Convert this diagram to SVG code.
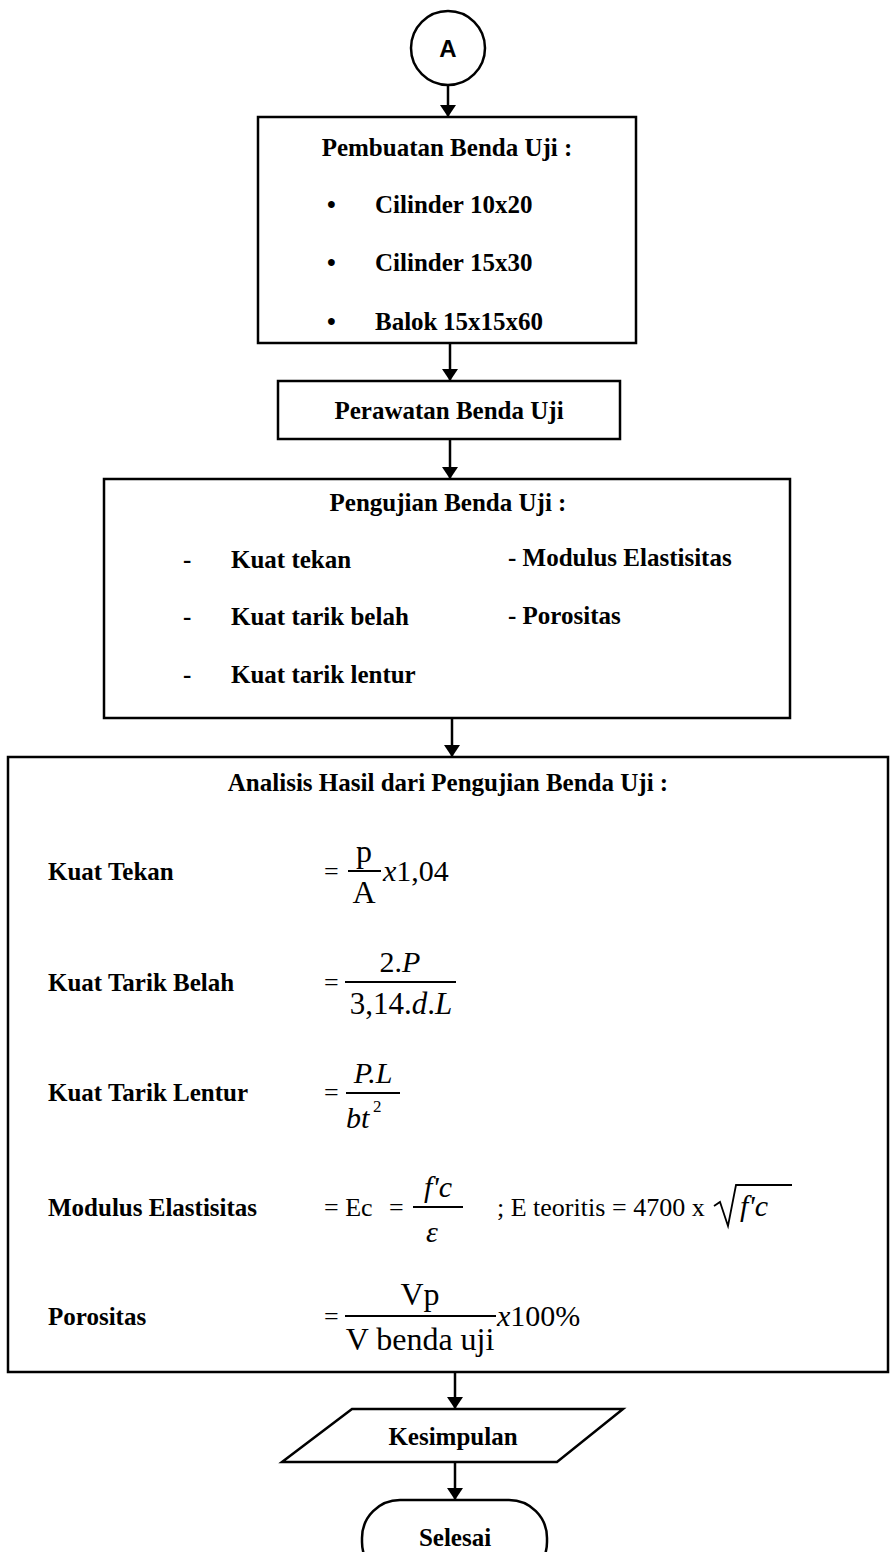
<svg xmlns="http://www.w3.org/2000/svg" width="890" height="1552" viewBox="0 0 890 1552">
<defs>
<marker id="ah" viewBox="0 0 12 16" refX="12" refY="8" markerWidth="12" markerHeight="16" markerUnits="userSpaceOnUse" orient="auto">
<path d="M0,0 L12,8 L0,16 Z" fill="#000"/>
</marker>
<style>
.box{fill:#fff;stroke:#000;stroke-width:2.5}
.t{font-family:"Liberation Serif","Times New Roman",serif;font-weight:bold;font-size:25px;fill:#000}
.c{text-anchor:middle}
.f{font-family:"Liberation Serif","Times New Roman",serif;font-size:30px;fill:#000}
.fs{font-family:"Liberation Serif","Times New Roman",serif;font-size:26px;fill:#000}
.i{font-style:italic}
.fl{stroke:#000;stroke-width:2}
.conn{stroke:#000;stroke-width:2.5;fill:none;marker-end:url(#ah)}
</style>
</defs>
<rect width="890" height="1552" fill="#fff"/>
<g id="connectors">
<line class="conn" x1="448" y1="85" x2="448" y2="117"/>
<line class="conn" x1="450" y1="343" x2="450" y2="381"/>
<line class="conn" x1="450" y1="439" x2="450" y2="479"/>
<line class="conn" x1="452" y1="718" x2="452" y2="757"/>
<line class="conn" x1="455" y1="1372" x2="455" y2="1409"/>
<line class="conn" x1="455" y1="1462" x2="455" y2="1500"/>
</g>
<g id="nodeA">
<circle cx="448" cy="48" r="37" fill="#fff" stroke="#000" stroke-width="2.5"/>
<text x="448" y="57" class="c" style="font-family:'Liberation Sans',Arial,sans-serif;font-weight:bold;font-size:24px">A</text>
</g>
<g id="pembuatan">
<rect class="box" x="258" y="117" width="378" height="226"/>
<text class="t c" x="447" y="156">Pembuatan Benda Uji :</text>
<text class="t" x="327" y="213">•</text>
<text class="t" x="375" y="213">Cilinder<tspan x="470">10x20</tspan></text>
<text class="t" x="327" y="271">•</text>
<text class="t" x="375" y="271">Cilinder<tspan x="470">15x30</tspan></text>
<text class="t" x="327" y="330">•</text>
<text class="t" x="375" y="330">Balok<tspan x="443">15x15x60</tspan></text>
</g>
<g id="perawatan">
<rect class="box" x="278" y="381" width="342" height="58"/>
<text class="t c" x="449" y="419">Perawatan Benda Uji</text>
</g>
<g id="pengujian">
<rect class="box" x="104" y="479" width="686" height="239"/>
<text class="t c" x="448" y="511">Pengujian Benda Uji :</text>
<text class="t" x="183" y="568">-</text>
<text class="t" x="231" y="568">Kuat tekan</text>
<text class="t" x="183" y="625">-</text>
<text class="t" x="231" y="625">Kuat tarik belah</text>
<text class="t" x="183" y="683">-</text>
<text class="t" x="231" y="683">Kuat tarik lentur</text>
<text class="t" x="508" y="566">- Modulus Elastisitas</text>
<text class="t" x="508" y="624">- Porositas</text>
</g>
<g id="analisis">
<rect class="box" x="8" y="757" width="880" height="615"/>
<text class="t c" x="448" y="791">Analisis Hasil dari Pengujian Benda Uji :</text>
<text class="t" x="48" y="880">Kuat Tekan</text>
<text class="t" x="48" y="991">Kuat Tarik Belah</text>
<text class="t" x="48" y="1101">Kuat Tarik Lentur</text>
<text class="t" x="48" y="1216">Modulus Elastisitas</text>
<text class="t" x="48" y="1325">Porositas</text>
<!-- Kuat Tekan -->
<text class="fs" x="324" y="880">=</text>
<text class="f c" x="364" y="862" style="font-size:32px">p</text>
<line class="fl" x1="348" y1="871" x2="381" y2="871"/>
<text class="f c" x="364" y="903" style="font-size:32px">A</text>
<text class="f" x="383" y="881"><tspan class="i">x</tspan>1,04</text>
<!-- Kuat Tarik Belah -->
<text class="fs" x="324" y="991">=</text>
<text class="f c" x="400" y="972">2.<tspan class="i">P</tspan></text>
<line class="fl" x1="345" y1="982" x2="456" y2="982"/>
<text class="f c" x="401" y="1014" style="font-size:31px">3,14.<tspan class="i">d</tspan>.<tspan class="i">L</tspan></text>
<!-- Kuat Tarik Lentur -->
<text class="fs" x="324" y="1101">=</text>
<text class="f c i" x="373" y="1083">P.L</text>
<line class="fl" x1="346" y1="1093" x2="400" y2="1093"/>
<text class="f i" x="346" y="1128">bt</text>
<text class="fs" x="373" y="1112" style="font-size:17px">2</text>
<!-- Modulus -->
<text class="fs" x="324" y="1216">= Ec<tspan x="389">=</tspan></text>
<line class="fl" x1="413" y1="1207" x2="463" y2="1207"/>
<text class="f c i" x="438" y="1197">f'c</text>
<text class="f c i" x="432" y="1242">ε</text>
<text class="fs" x="497" y="1216">; E teoritis<tspan x="612">= 4700 x</tspan></text>
<path d="M714,1206 L720,1202 L728,1226 L736,1185 L792,1185" fill="none" stroke="#000" stroke-width="1.8"/>
<text class="f i" x="740" y="1216">f'c</text>
<!-- Porositas -->
<text class="fs" x="324" y="1325">=</text>
<text class="f c" x="420" y="1305" style="font-size:32px">Vp</text>
<line class="fl" x1="345" y1="1316" x2="496" y2="1316"/>
<text class="f c" x="420" y="1350" style="font-size:32px">V benda uji</text>
<text class="f" x="497" y="1326"><tspan class="i">x</tspan>100%</text>
</g>
<g id="kesimpulan">
<polygon class="box" points="352,1409 623,1409 557,1462 282,1462"/>
<text class="t c" x="453" y="1445">Kesimpulan</text>
</g>
<g id="selesai">
<rect class="box" x="362" y="1500" width="185" height="80" rx="38" ry="38"/>
<text class="t c" x="455" y="1546">Selesai</text>
</g>
</svg>
